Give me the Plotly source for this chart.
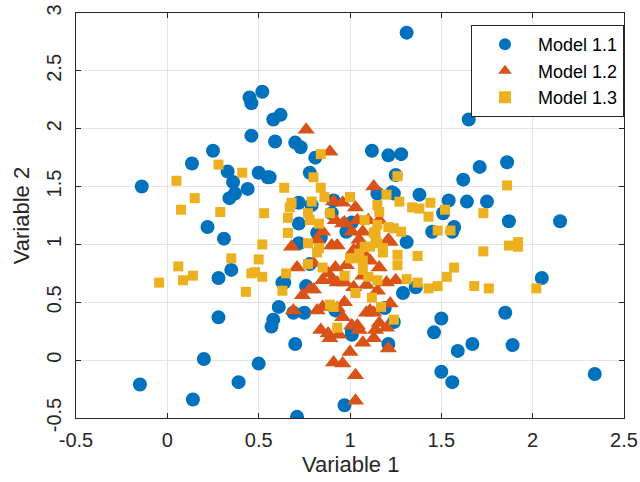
import plotly.graph_objects as go

# Model 1.1 (blue circles)
m1_x = [1.31, -0.14, 0.135, 0.25, 0.33, 0.36, 0.34, 0.37, 0.44, 0.50, 0.55, 0.46, 0.59, 0.45, 0.46,
        0.52, 0.58, 0.62, 0.70, 0.73, 0.81, 0.78, 0.72, 0.79, 0.91,
        0.22, 0.31, 0.35, 0.28, 0.28, 0.20, -0.15, 0.14, 0.50, 0.39, 0.71, 0.70, 0.57, 0.58, 0.61,
        0.64, 0.69, 0.75, 0.76, 0.78, 0.72, 0.72, 0.84, 0.98, 0.90, 0.97, 1.01, 0.92,
        1.12, 1.21, 1.28, 1.25, 1.24, 1.15, 1.38, 1.54, 1.64, 1.75, 1.62, 1.71, 1.86, 1.65, 1.51,
        1.87, 2.15, 1.45, 1.56, 1.57, 1.31, 1.29, 1.36, 1.24, 1.21, 1.19, 1.50, 1.46, 1.59, 1.67,
        1.50, 1.56, 1.85, 1.89, 2.05, 2.34, 0.56, 0.82, 1.01, 0.63, 1.01, 1.23]
m1_y = [2.83, 1.50, 1.70, 1.81, 1.63, 1.54, 1.40, 1.44, 1.48, 1.62, 1.58, 1.94, 1.89, 2.27, 2.22,
        2.32, 2.08, 2.12, 1.88, 1.84, 1.75, 1.62, 1.36, 1.34, 1.38,
        1.15, 1.05, 0.78, 0.71, 0.37, 0.01, -0.21, -0.34, -0.03, -0.19, -0.49, 0.14, 0.29, 0.35, 0.46,
        0.67, 0.41, 0.41, 0.64, 0.83, 1.01, 1.18, 1.06, 1.11, 1.27, -0.39, 0.22, 0.43,
        1.81, 1.77, 1.78, 1.60, 1.44, 1.44, 1.43, 1.38, 1.37, 1.37, 1.56, 1.67, 1.71, 2.08, 1.27,
        1.20, 1.20, 1.11, 1.11, 1.15, 1.02, 0.58, 0.63, 0.33, 0.14, 0.45, 0.36, 0.24, 0.08, 0.14,
        -0.10, -0.19, 0.41, 0.13, 0.71, -0.12, 1.58, 1.10, 1.19, 0.67, 0.26, 1.45]

# Model 1.2 (orange triangles)
m2_x = [0.76, 0.89, 1.13, 0.91, 0.96, 1.03, 0.92, 0.97, 1.04, 1.07, 1.01, 0.85, 0.82, 0.68, 0.90,
        0.93, 1.05, 1.02, 1.06, 1.10, 1.16, 1.21, 0.71, 0.88, 0.92, 0.85, 0.90, 0.78, 0.74, 0.97,
        0.93, 1.02, 0.69, 0.82, 0.85, 0.97, 0.93, 1.01, 1.04, 0.84, 0.88, 0.96, 0.98, 0.80, 1.09,
        1.16, 1.25, 1.20, 1.09, 1.15, 1.22, 1.13, 1.09, 1.16, 1.14, 1.20, 1.05, 1.11, 1.07, 0.89,
        0.94, 1.07, 1.13, 1.21, 1.00, 0.91, 0.96, 1.03, 1.03, 1.11, 1.22, 0.96, 0.80]
m2_y = [1.99, 1.80, 1.50, 1.37, 1.36, 1.32, 1.21, 1.19, 1.21, 1.11, 1.11, 1.11, 1.04, 0.98, 0.99,
        0.99, 1.04, 0.95, 0.99, 1.21, 1.21, 1.04, 0.80, 0.75, 0.80, 0.69, 0.69, 0.61, 0.56, 0.67,
        0.67, 0.63, 0.43, 0.43, 0.46, 0.50, 0.45, 0.30, 0.30, 0.26, 0.23, 0.37, 0.82, 0.84, 0.89,
        0.80, 0.69, 0.67, 0.65, 0.60, 0.49, 0.41, 0.41, 0.32, 0.26, 0.28, 0.26, 0.86, 0.73, 0.19,
        0.22, 0.15, 0.19, 0.10, 0.07, -0.02, -0.03, -0.13, -0.35, 0.43, 1.02, 1.18, 0.61]

# Model 1.3 (yellow squares)
m3_x = [-0.045, 0.06, 0.086, 0.14, 0.05, 0.15, 0.075, 0.28, 0.41, 0.29, 0.53, 0.52, 0.35, 0.50,
        0.46, 0.48, 0.52, 0.43,
        0.66, 0.66, 0.77, 0.80, 0.64, 0.84, 0.86, 1.00, 0.68, 0.67, 0.79, 0.78, 0.83, 0.89,
        1.08, 0.77, 0.83, 1.05, 1.00, 0.84,
        1.26, 1.20, 1.27, 1.34, 1.38, 1.44, 1.43, 1.52, 1.15, 1.21, 1.24, 1.28, 1.48, 1.55,
        1.14, 1.14, 1.11, 1.18, 1.26, 1.37,
        1.86, 1.73, 1.73, 1.87, 1.92, 1.92, 1.57, 1.53, 1.48, 1.43, 1.68, 1.76, 2.02, 1.31, 1.37,
        1.24, 0.93, 1.17, 1.12, 1.03, 1.15, 1.26, 1.08, 1.18, 1.02, 1.07, 1.10, 1.15, 0.97, 0.91,
        1.13, 1.15, 1.16, 0.65, 0.77, 0.85, 0.82, 1.07, 0.89, 0.63]
m3_y = [0.67, 0.81, 0.69, 0.73, 1.55, 1.40, 1.30, 1.69, 1.62, 1.28, 1.27, 1.00, 0.88, 0.87,
        0.75, 0.76, 0.72, 0.59,
        1.10, 1.23, 1.27, 1.58, 1.49, 1.49, 1.41, 1.41, 1.36, 1.32, 1.37, 1.21, 1.18, 1.27,
        1.21, 1.01, 0.97, 0.92, 0.88, 1.78,
        1.59, 1.43, 1.37, 1.32, 1.31, 1.36, 1.24, 1.30, 1.34, 1.15, 1.14, 1.11, 1.12, 1.12,
        1.11, 1.04, 0.98, 0.97, 0.91, 0.90,
        1.51, 1.27, 0.94, 0.99, 1.02, 0.98, 0.80, 0.72, 0.64, 0.62, 0.64, 0.62, 0.62, 0.70, 0.67,
        0.35, 0.28, 0.46, 0.54, 0.58, 1.01, 0.82, 0.98, 0.93, 0.88, 0.78, 0.72, 0.69, 0.73, 0.46,
        1.10, 1.17, 1.28, 0.75, 0.83, 0.80, 0.93, 0.86, 0.48, 0.60]

x_ticks = [-0.5, 0, 0.5, 1, 1.5, 2, 2.5]
x_tick_labels = ["-0.5", "0", "0.5", "1", "1.5", "2", "2.5"]
y_ticks = [-0.5, 0, 0.5, 1, 1.5, 2, 2.5, 3]
y_tick_labels = ["-0.5", "0", "0.5", "1", "1.5", "2", "2.5", "3"]
x_title = "Variable 1"
y_title = "Variable 2"

FONT = "Liberation Sans, Arial, sans-serif"
axis_col = "#262626"

fig = go.Figure()
fig.add_trace(go.Scatter(x=m1_x, y=m1_y, mode="markers", name="Model 1.1",
                         marker=dict(symbol="circle", size=14, color="#0072BD", line=dict(width=0))))
fig.add_trace(go.Scatter(x=m2_x, y=m2_y, mode="markers", name="Model 1.2",
                         marker=dict(symbol="triangle-up", size=15, color="#D95319", line=dict(width=0))))
fig.add_trace(go.Scatter(x=m3_x, y=m3_y, mode="markers", name="Model 1.3",
                         marker=dict(symbol="square", size=10, color="#EDB120", line=dict(width=0))))

common = dict(showline=True, linecolor=axis_col, linewidth=1, mirror="ticks",
              ticks="inside", ticklen=5, tickcolor=axis_col, automargin=False,
              showgrid=True, gridcolor="#e5e5e5", gridwidth=1, zeroline=False,
              tickfont=dict(family=FONT, size=20, color=axis_col))

fig.update_xaxes(range=[-0.5, 2.5], tickvals=x_ticks, ticktext=x_tick_labels,
                 ticklabelstandoff=4, **common)
fig.update_yaxes(range=[-0.5, 3], tickvals=y_ticks, ticktext=y_tick_labels, tickangle=-90,
                 ticklabelstandoff=6, **common)

fig.add_annotation(text=x_title, xref="paper", yref="paper", x=0.5, y=-0.116,
                   xanchor="center", yanchor="middle", showarrow=False,
                   font=dict(family=FONT, size=22, color=axis_col))
fig.add_annotation(text=y_title, xref="paper", yref="paper", x=-0.099, y=0.5,
                   xanchor="center", yanchor="middle", showarrow=False, textangle=-90,
                   font=dict(family=FONT, size=22, color=axis_col))

fig.update_layout(
    width=640, height=482,
    margin=dict(l=76, r=16, t=13, b=64),
    plot_bgcolor="white", paper_bgcolor="white",
    font=dict(family=FONT, size=20, color="black"),
    legend=dict(x=1, xanchor="right", y=0.97, yanchor="top",
                bgcolor="white", bordercolor=axis_col, borderwidth=1,
                font=dict(family=FONT, size=18, color="black"),
                itemsizing="constant", itemwidth=56, tracegroupgap=0),
    showlegend=True,
)

fig.write_html("out.html")
